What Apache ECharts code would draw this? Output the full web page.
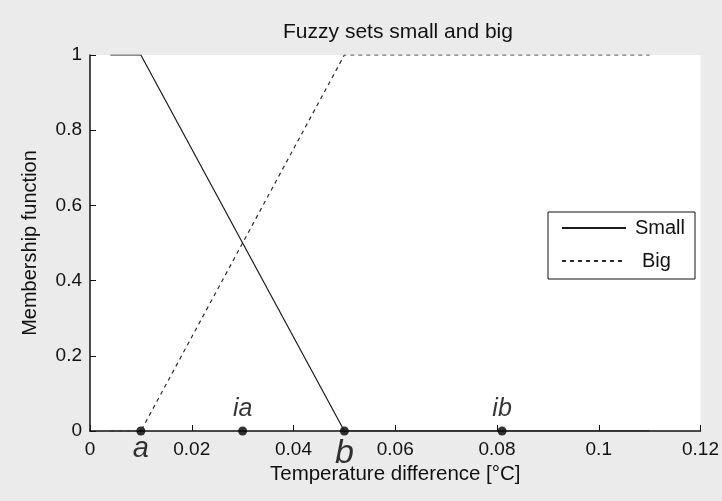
<!DOCTYPE html>
<html>
<head>
<meta charset="utf-8">
<script src="https://cdn.jsdelivr.net/npm/echarts@6/dist/echarts.min.js"></script>
<style>
html,body{margin:0;padding:0;background:#ebebeb;}
#chart{width:722px;height:501px;}
</style>
</head>
<body>
<div id="chart"></div>
<script>
// Data
var titleText = 'Fuzzy sets small and big';
var xName = 'Temperature difference [°C]';
var yName = 'Membership function';
var smallX = [0.004, 0.01, 0.05, 0.11];
var smallY = [1, 1, 0, 0];
var bigX = [0.004, 0.01, 0.05, 0.11];
var bigY = [0, 0, 1, 1];
var belowNames = ['a', 'b'];
var belowX = [0.01, 0.05];
var aboveNames = ['ia', 'ib'];
var aboveX = [0.03, 0.081];

var font = '"Liberation Sans", Arial, sans-serif';
var belowSizes = [29, 34];
var belowDist = [-1, 1];

function pairs(xs, ys) { return xs.map(function (x, i) { return [x, ys[i]]; }); }
function marks(xs, names) { return xs.map(function (x, i) { return { value: [x, 0], name: names[i] }; }); }
var belowData = marks(belowX, belowNames).map(function (d, i) {
  d.label = { fontSize: belowSizes[i], distance: belowDist[i] };
  return d;
});

var chart = echarts.init(document.getElementById('chart'), null, { renderer: 'canvas' });
chart.setOption({
  backgroundColor: '#ebebeb',
  animation: false,
  title: {
    text: titleText, left: 393, textAlign: 'center', top: 17,
    textStyle: { fontFamily: font, fontSize: 21, fontWeight: 'normal', color: '#111' }
  },
  grid: { left: 90, right: 17, top: 55, bottom: 70, show: true, backgroundColor: '#fff', borderWidth: 0 },
  xAxis: {
    type: 'value', min: 0, max: 0.12, interval: 0.02,
    name: xName, nameLocation: 'middle', nameGap: 32,
    nameTextStyle: { fontFamily: font, fontSize: 20.5, color: '#111' },
    axisLine: { lineStyle: { color: '#111', width: 1.5 } },
    axisTick: { inside: true, length: 6, lineStyle: { color: '#111' } },
    axisLabel: { fontFamily: font, fontSize: 19, color: '#111', margin: 9,
      formatter: function (v) { return String(+v.toFixed(2)); } },
    splitLine: { show: false }
  },
  yAxis: {
    type: 'value', min: 0, max: 1, interval: 0.2,
    name: yName, nameLocation: 'middle', nameGap: 50,
    nameTextStyle: { fontFamily: font, fontSize: 20, color: '#111' },
    axisLine: { show: true, lineStyle: { color: '#111', width: 1.5 } },
    axisTick: { show: true, inside: true, length: 6, lineStyle: { color: '#111' } },
    axisLabel: { fontFamily: font, fontSize: 19, color: '#111', margin: 8,
      formatter: function (v) { return String(+v.toFixed(1)); } },
    splitLine: { show: false }
  },
  legend: {
    data: ['Small', 'Big'], orient: 'vertical', left: 548, top: 212,
    backgroundColor: '#fff', borderColor: '#111', borderWidth: 1, borderRadius: 0,
    padding: [6, 10, 8, 13], itemWidth: 64, itemHeight: 20, itemGap: 13,
    selectedMode: false,
    itemStyle: { opacity: 0, borderWidth: 0 },
    formatter: function (n) { return n === 'Big' ? '{b|' + n + '}' : n; },
    textStyle: { fontFamily: font, fontSize: 20, color: '#111', padding: [0, 0, 0, 4],
      rich: { b: { fontFamily: font, fontSize: 20, color: '#111', padding: [0, 0, 0, 7] } } }
  },
  series: [
    { name: 'Small', type: 'line', data: pairs(smallX, smallY), symbol: 'none',
      lineStyle: { color: '#1a1a1a', width: 1.2, type: 'solid' }, itemStyle: { color: '#1a1a1a' } },
    { name: 'Big', type: 'line', data: pairs(bigX, bigY), symbol: 'none',
      lineStyle: { color: '#2a2a2a', width: 1.2, type: [4, 4] }, itemStyle: { color: '#2a2a2a' } },
    { name: 'marksBelow', type: 'scatter', data: belowData, symbolSize: 9, clip: false,
      itemStyle: { color: '#000' },
      label: { show: true, position: 'bottom', distance: 0, formatter: '{b}',
        fontFamily: font, fontSize: 29, fontStyle: 'italic', color: '#000' } },
    { name: 'marksAbove', type: 'scatter', data: marks(aboveX, aboveNames), symbolSize: 9, clip: false,
      itemStyle: { color: '#000' },
      label: { show: true, position: 'top', distance: 5, formatter: '{b}',
        fontFamily: font, fontSize: 25, fontStyle: 'italic', color: '#000' } }
  ]
});
</script>
</body>
</html>
